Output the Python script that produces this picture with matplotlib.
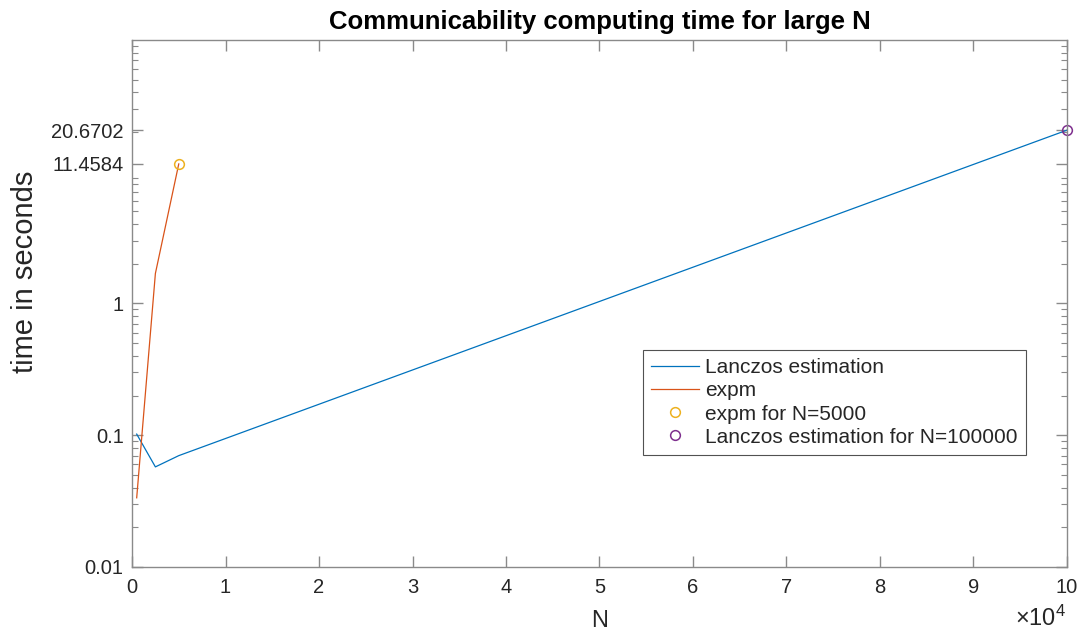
import matplotlib
matplotlib.use("Agg")
import matplotlib.pyplot as plt
from matplotlib.ticker import FixedLocator, LogLocator, NullFormatter

plt.rcParams['font.family'] = ['Liberation Sans', 'DejaVu Sans']
plt.rcParams['mathtext.fontset'] = 'custom'
plt.rcParams['mathtext.rm'] = 'Liberation Sans'
plt.rcParams['mathtext.it'] = 'Liberation Sans:italic'
plt.rcParams['mathtext.bf'] = 'Liberation Sans:bold'

# Timings (seconds) against matrix size N
lanczos_n = [500, 2500, 5000, 100000]
lanczos_t = [0.102, 0.0575, 0.070, 20.6702]
expm_n = [500, 2500, 5000]
expm_t = [0.0335, 1.69, 11.4584]
expm_mark_n = [5000]
expm_mark_t = [11.4584]
lanczos_mark_n = [100000]
lanczos_mark_t = [20.6702]
y_ticks = [0.01, 0.1, 1, 11.4584, 20.6702]
y_tick_labels = ['0.01', '0.1', '1', '11.4584', '20.6702']
x_ticks = [0, 10000, 20000, 30000, 40000, 50000, 60000, 70000, 80000, 90000, 100000]
x_tick_labels = ['0', '1', '2', '3', '4', '5', '6', '7', '8', '9', '10']

C_BLUE = '#0072BD'
C_ORANGE = '#D95319'
C_YELLOW = '#EDB120'
C_PURPLE = '#7E2F8E'
AX_COL = '#8a8a8a'
TXT = '#262626'

fig = plt.figure(figsize=(10.83, 6.35), dpi=100)
ax = fig.add_axes([0.1219, 0.1071, 0.8633, 0.8300])

ax.plot(lanczos_n, lanczos_t, color=C_BLUE, lw=0.9, label='Lanczos estimation')
ax.plot(expm_n, expm_t, color=C_ORANGE, lw=0.9, label='expm')
ax.plot(expm_mark_n, expm_mark_t, 'o', mfc='none', mec=C_YELLOW, mew=1.1, ms=7,
        label='expm for N=5000')
ax.plot(lanczos_mark_n, lanczos_mark_t, 'o', mfc='none', mec=C_PURPLE, mew=1.1, ms=7,
        label='Lanczos estimation for N=100000', clip_on=False)

ax.set_yscale('log')
ax.set_xlim(0, 100000)
ax.set_ylim(0.01, 100)

ax.yaxis.set_major_locator(FixedLocator(y_ticks))
ax.set_yticklabels(y_tick_labels)
ax.yaxis.set_minor_locator(LogLocator(base=10, subs=range(2, 10)))
ax.yaxis.set_minor_formatter(NullFormatter())

ax.set_xticks(x_ticks)
ax.set_xticklabels(x_tick_labels)

for s in ax.spines.values():
    s.set_color(AX_COL)
    s.set_linewidth(1.0)
ax.tick_params(axis='both', which='both', direction='in', top=True, right=True,
               colors=AX_COL, labelcolor=TXT, labelsize=14.5)
ax.tick_params(axis='both', which='major', length=8, width=1.0)
ax.tick_params(axis='y', which='minor', length=4, width=0.8)
ax.tick_params(axis='x', pad=8)
ax.tick_params(axis='y', pad=6)

# axis exponent for the N ticks
ax.text(0.9995, -0.097, r'$\times\mathregular{10^{4}}$', transform=ax.transAxes,
        ha='right', va='center', fontsize=17, color=TXT)

ax.set_xlabel('N', fontsize=17, color=TXT, labelpad=9)
ax.set_ylabel('time in seconds', fontsize=21, color=TXT)
ax.yaxis.set_label_coords(-0.099, 0.56)
ax.set_title('Communicability computing time for large N', fontsize=18.5,
             fontweight='bold', color='black', pad=8)

leg = ax.legend(loc='upper left', bbox_to_anchor=(0.5465, 0.4118), fontsize=15,
                frameon=True, fancybox=False, borderpad=0.4, handlelength=2.3,
                handletextpad=0.3, labelspacing=0.2, borderaxespad=0)
leg.get_frame().set_edgecolor('#262626')
leg.get_frame().set_linewidth(0.8)
for t in leg.get_texts():
    t.set_color(TXT)

fig.savefig('out.png', dpi=100)
